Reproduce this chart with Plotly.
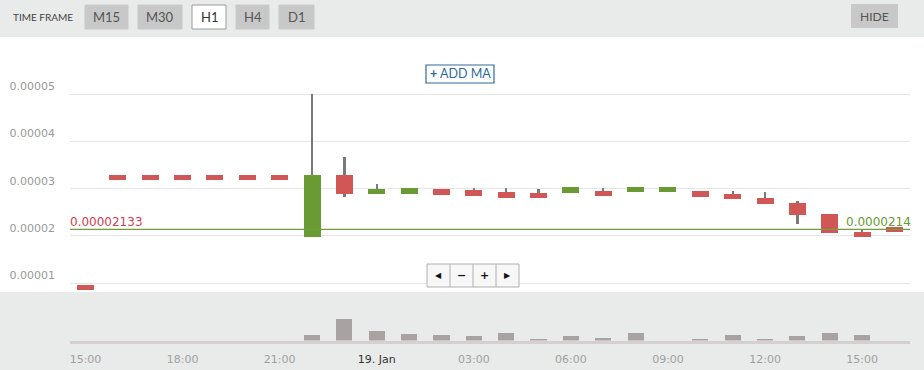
import plotly.graph_objects as go
import pandas as pd

# ---------------- data ----------------
times = pd.date_range("2018-01-18 15:00", "2018-01-19 16:00", freq="h")
open_ = [0.96, 3.29, 3.29, 3.29, 3.29, 3.29, 3.29, 1.97, 3.29, 2.88, 2.88, 2.99, 2.97,
         2.93, 2.91, 2.91, 2.95, 2.93, 2.93, 2.95, 2.88, 2.80, 2.69, 2.46, 2.08, 2.18]
high = [0.96, 3.29, 3.29, 3.29, 3.29, 3.29, 3.29, 5.00, 3.67, 3.10, 3.01, 2.99, 3.01,
        3.01, 2.99, 3.03, 3.01, 3.03, 3.03, 2.95, 2.95, 2.93, 2.74, 2.46, 2.14, 2.18]
low = [0.86, 3.19, 3.19, 3.19, 3.19, 3.19, 3.19, 1.97, 2.81, 2.88, 2.88, 2.86, 2.84,
       2.80, 2.80, 2.91, 2.84, 2.93, 2.93, 2.82, 2.78, 2.67, 2.25, 2.06, 1.97, 2.08]
close = [0.86, 3.19, 3.19, 3.19, 3.19, 3.19, 3.19, 3.29, 2.88, 2.99, 3.01, 2.86, 2.84,
         2.80, 2.80, 3.03, 2.84, 3.03, 3.03, 2.82, 2.78, 2.67, 2.44, 2.06, 1.97, 2.08]
volume = [0, 0, 0, 0, 0, 0, 0, 6, 22, 10, 7, 6, 5, 8, 1, 5, 3, 8, 0, 2, 6, 2, 5, 8, 6, 0]
SCALE = 1e-5
open_ = [v * SCALE for v in open_]
high = [v * SCALE for v in high]
low = [v * SCALE for v in low]
close = [v * SCALE for v in close]

current_price = 0.00002133
current_label_left = "0.00002133"
current_label_right = "0.0000214"

y_tickvals = [0.00001, 0.00002, 0.00003, 0.00004, 0.00005]
y_ticktext = ["0.00001", "0.00002", "0.00003", "0.00004", "0.00005"]
x_tickvals = pd.to_datetime(["2018-01-18 15:00", "2018-01-18 18:00", "2018-01-18 21:00",
                             "2018-01-19 00:00", "2018-01-19 03:00", "2018-01-19 06:00",
                             "2018-01-19 09:00", "2018-01-19 12:00", "2018-01-19 15:00"])
x_ticktext = ["15:00", "18:00", "21:00", "<span style='color:#333333'>19. Jan</span>",
              "03:00", "06:00", "09:00", "12:00", "15:00"]
timeframes = ["M15", "M30", "H1", "H4", "D1"]

# ---------------- styles ----------------
W, H = 924, 370
GREEN = "#6a9a34"
RED = "#d15656"
WICK = "#7a7a7a"

def px(x):
    return x / W

def py(y):
    return (H - y) / H

HOUR_MS = 3600000
body_w = 0.525 * HOUR_MS
wick_w = 0.07 * HOUR_MS

colors = [GREEN if c > o else RED for o, c in zip(open_, close)]
body_base = [min(o, c) for o, c in zip(open_, close)]
body_h = [abs(c - o) for o, c in zip(open_, close)]
wick_h = [h - l for h, l in zip(high, low)]

fig = go.Figure()
fig.add_trace(go.Bar(x=times, y=wick_h, base=low, width=wick_w, marker=dict(color=WICK, line=dict(width=0)),
                     xaxis="x", yaxis="y", hoverinfo="skip"))
fig.add_trace(go.Bar(x=times, y=body_h, base=body_base, width=body_w,
                     marker=dict(color=colors, line=dict(width=0)), xaxis="x", yaxis="y", hoverinfo="skip"))
fig.add_trace(go.Bar(x=times, y=volume, width=body_w * 0.95, marker=dict(color="#a8a2a2", line=dict(width=0)),
                     xaxis="x2", yaxis="y2", hoverinfo="skip"))

x_range = [times[0] - pd.Timedelta(minutes=28.75), times[-1] + pd.Timedelta(minutes=28.75)]

shapes = [
    dict(type="rect", xref="paper", yref="paper", x0=0, x1=1, y0=py(37), y1=1,
         fillcolor="#e9eaea", line=dict(width=0), layer="below"),
    dict(type="rect", xref="paper", yref="paper", x0=0, x1=1, y0=0, y1=py(292),
         fillcolor="#e9eaea", line=dict(width=0), layer="below"),
    dict(type="line", xref="paper", yref="y", x0=px(70), x1=px(910), y0=current_price, y1=current_price,
         line=dict(color="#6f9e3a", width=1.2)),
]
annotations = []

# timeframe buttons
annotations.append(dict(xref="paper", yref="paper", x=px(11), y=py(17), text="TIME FRAME", showarrow=False,
                        xanchor="left", yanchor="middle", font=dict(family="Lato", size=10, color="#444444")))
btn_x = [(85, 128), (138, 182), (192, 226), (236, 269), (279, 314)]
for (x0, x1), label in zip(btn_x, timeframes):
    active = label == "H1"
    shapes.append(dict(type="rect", xref="paper", yref="paper", x0=px(x0), x1=px(x1), y0=py(29), y1=py(5),
                       fillcolor="#ffffff" if active else "#c8c8c8",
                       line=dict(color="#9a9a9a" if active else "#c8c8c8", width=1)))
    annotations.append(dict(xref="paper", yref="paper", x=px((x0 + x1) / 2), y=py(17), text=label,
                            showarrow=False, xanchor="center", yanchor="middle",
                            font=dict(family="Lato", size=13, color="#333333" if active else "#555555")))
shapes.append(dict(type="rect", xref="paper", yref="paper", x0=px(851), x1=px(898), y0=py(28), y1=py(4),
                   fillcolor="#c8c8c8", line=dict(width=0)))
annotations.append(dict(xref="paper", yref="paper", x=px(874.5), y=py(16), text="HIDE", showarrow=False,
                        xanchor="center", yanchor="middle", font=dict(family="Lato", size=12, color="#555555")))

# add MA button
shapes.append(dict(type="rect", xref="paper", yref="paper", x0=px(426), x1=px(494), y0=py(83), y1=py(65),
                   fillcolor="#ffffff", line=dict(color="#2f6a9c", width=1.2)))
annotations.append(dict(xref="paper", yref="paper", x=px(460), y=py(74), text="<b>+</b> ADD MA", showarrow=False,
                        xanchor="center", yanchor="middle", font=dict(family="Lato", size=12.5, color="#2f6a9c")))

# navigation buttons
shapes.append(dict(type="rect", xref="paper", yref="paper", x0=px(427), x1=px(519), y0=py(287), y1=py(264),
                   fillcolor="#f7f7f7", line=dict(color="#b0b0b0", width=1)))
for xd in (450, 473, 496):
    shapes.append(dict(type="line", xref="paper", yref="paper", x0=px(xd), x1=px(xd), y0=py(287), y1=py(264),
                       line=dict(color="#b0b0b0", width=1)))
for cx, sym, sz in ((438.5, "◀", 8), (461.5, "<b>−</b>", 11), (484.5, "<b>+</b>", 11), (507.5, "▶", 8)):
    annotations.append(dict(xref="paper", yref="paper", x=px(cx), y=py(275.5), text=sym, showarrow=False,
                            xanchor="center", yanchor="middle",
                            font=dict(family="DejaVu Sans", size=sz, color="#111111")))

# price labels
annotations.append(dict(xref="paper", yref="y", x=px(70), y=current_price, text=current_label_left,
                        showarrow=False, xanchor="left", yanchor="bottom", yshift=-2, xshift=-2,
                        font=dict(family="DejaVu Sans", size=12, color="#d0414f")))
annotations.append(dict(xref="paper", yref="y", x=px(912), y=current_price, text=current_label_right,
                        showarrow=False, xanchor="right", yanchor="bottom", yshift=-2, xshift=1,
                        font=dict(family="DejaVu Sans", size=12, color=GREEN)))

fig.update_layout(
    width=W, height=H, margin=dict(l=0, r=0, t=0, b=0),
    paper_bgcolor="#ffffff", plot_bgcolor="rgba(0,0,0,0)",
    barmode="overlay", bargap=0, showlegend=False, hovermode=False,
    shapes=shapes, annotations=annotations,
    xaxis=dict(domain=[px(70), px(910)], range=x_range, type="date", anchor="y",
               showgrid=False, showticklabels=False, zeroline=False, showline=False, fixedrange=True),
    yaxis=dict(domain=[py(292), py(40)], range=[0.8095e-5, 6.143e-5], anchor="x",
               tickvals=y_tickvals, ticktext=y_ticktext, showgrid=True, gridcolor="#e6e6e6", gridwidth=1,
               zeroline=False, showline=False, ticklabelposition="outside top", ticklabelstandoff=14,
               tickfont=dict(family="DejaVu Sans", size=11, color="#999999"), fixedrange=True),
    xaxis2=dict(domain=[px(70), px(910)], matches="x", type="date", anchor="y2",
                tickvals=x_tickvals, ticktext=x_ticktext, showgrid=False, zeroline=False,
                showline=True, linecolor="#d6cfcf", linewidth=3, ticks="", ticklabelstandoff=6,
                tickfont=dict(family="DejaVu Sans", size=11, color="#a0a0a0"), fixedrange=True),
    yaxis2=dict(domain=[py(340.5), py(300)], range=[0, 40.5], anchor="x2", showgrid=False,
                showticklabels=False, zeroline=False, showline=False, fixedrange=True),
)

fig.write_html("out.html", config={"displayModeBar": False})
